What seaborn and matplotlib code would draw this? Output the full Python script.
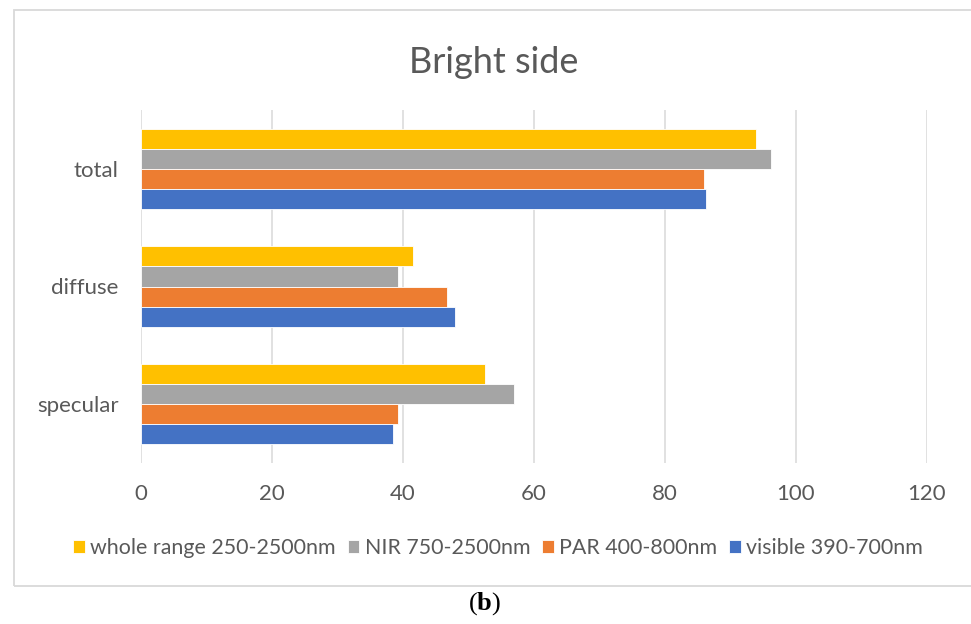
import matplotlib
matplotlib.use("Agg")
import matplotlib.pyplot as plt
from matplotlib.patches import Rectangle
import pandas as pd
import seaborn as sns

# Reflectance by component, bright side of the sample (%)
components = ["total", "diffuse", "specular"]
series_names = [
    "whole range 250-2500nm",
    "NIR 750-2500nm",
    "PAR 400-800nm",
    "visible 390-700nm",
]
whole_range = [93.9, 41.5, 52.5]
nir = [96.2, 39.2, 57.0]
par = [85.9, 46.7, 39.3]
visible = [86.3, 47.9, 38.4]
x_ticks = [0, 20, 40, 60, 80, 100, 120]

colors = ["#FFC000", "#A5A5A5", "#ED7D31", "#4472C4"]
text_grey = "#595959"
grid_grey = "#D9D9D9"

rows = []
for name, vals in zip(series_names, [whole_range, nir, par, visible]):
    for comp, v in zip(components, vals):
        rows.append({"component": comp, "series": name, "value": v})
df = pd.DataFrame(rows)

sns.set_theme(style="white")
plt.rcParams["font.family"] = ["Lato", "DejaVu Sans"]
plt.rcParams["mathtext.fontset"] = "custom"
plt.rcParams["mathtext.rm"] = "Liberation Serif"
plt.rcParams["mathtext.bf"] = "Liberation Serif:bold"

fig = plt.figure(figsize=(9.71, 6.24), dpi=100)
ax = fig.add_axes([141 / 971, 1 - 463 / 624, 786 / 971, 353 / 624])

sns.barplot(
    data=df, x="value", y="component", hue="series",
    order=components, hue_order=series_names, palette=colors,
    orient="h", width=0.685, ax=ax, edgecolor="white", linewidth=0.6,
    saturation=1,
)

ax.set_xlim(0, 120)
ax.set_xticks(x_ticks)
ax.set_xticklabels([str(t) for t in x_ticks])
ax.set_ylim(2.5, -0.5)
ax.set_xlabel("")
ax.set_ylabel("")
ax.grid(axis="x", color=grid_grey, linewidth=1.1)
ax.grid(axis="y", visible=False)
ax.set_axisbelow(True)
for s in ax.spines.values():
    s.set_visible(False)
ax.tick_params(axis="x", length=0, pad=15, labelsize=16, labelcolor=text_grey)
ax.tick_params(axis="y", length=0, pad=16, labelsize=16, labelcolor=text_grey)

handles, labels = ax.get_legend_handles_labels()
ax.legend_.remove()
fig.legend(
    handles, labels, loc="center", bbox_to_anchor=(498 / 971, 1 - 548 / 624),
    ncol=4, frameon=False, fontsize=15.4, labelcolor=text_grey,
    handlelength=0.55, handleheight=0.55, handletextpad=0.25,
    columnspacing=0.55, borderaxespad=0,
)

fig.text(494 / 971, 1 - 73 / 624, "Bright side", ha="center", va="baseline",
         fontsize=26, color=text_grey)

# Chart frame
fig.patches.append(Rectangle((14 / 971, 1 - 586 / 624), 1.2, (586 - 10) / 624,
                             transform=fig.transFigure, fill=False,
                             edgecolor=grid_grey, linewidth=1.3, zorder=0))

fig.text(485 / 971, 1 - 604 / 624, r"$\mathrm{(}\mathbf{b}\mathrm{)}$",
         ha="center", va="center", fontsize=19, color="black")

fig.savefig("out.png", dpi=100, facecolor="white")
